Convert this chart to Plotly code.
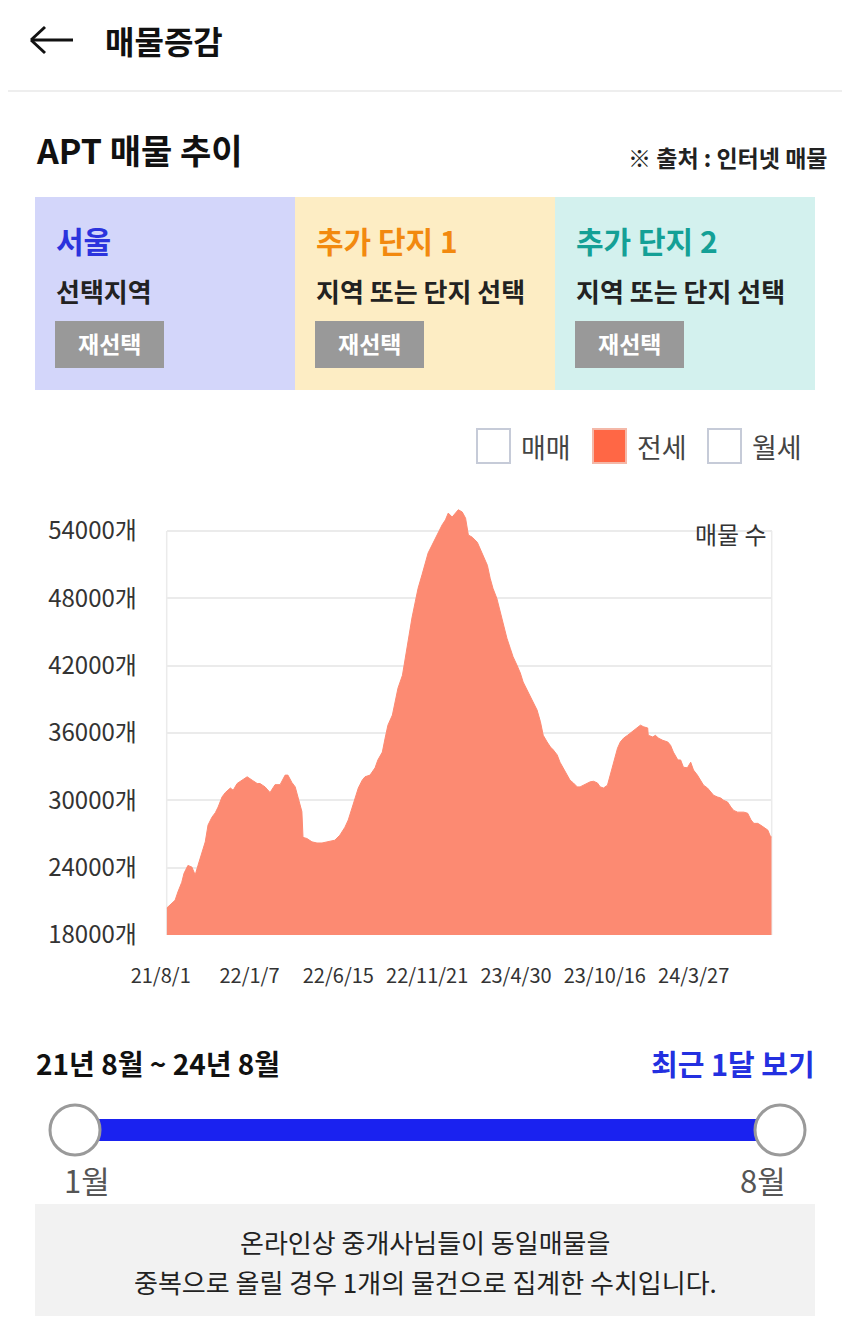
import plotly.graph_objects as go

W, H = 850, 1324
OFF = 8  # 페이지 body 여백만큼 보정
FONT = "Noto Sans CJK KR"

# 시점 인덱스(일 단위 카테고리 순번)와 전세 매물 수
idx = [0, 6, 15, 20, 27, 31, 38, 45, 51, 56, 63, 69, 74, 81, 87, 92, 99, 105, 114, 119,
       126, 135, 144, 153, 162, 167, 176, 185, 194, 203, 212, 217, 224, 230, 235, 242, 244, 251, 260, 269,
       278, 289, 301, 310, 319, 325, 332, 337, 343, 350, 355, 364, 373, 378, 386, 391, 396, 404, 409, 414,
       422, 427, 432, 439, 445, 450, 457, 463, 468, 475, 481, 486, 493, 499, 504, 511, 517, 522, 529, 535,
       540, 547, 556, 561, 566, 574, 579, 584, 591, 597, 602, 609, 615, 620, 627, 633, 638, 645, 651, 656,
       663, 669, 674, 681, 687, 692, 699, 704, 710, 717, 722, 728, 735, 740, 746, 753, 758, 764, 771, 776,
       782, 789, 794, 800, 807, 812, 818, 825, 830, 836, 843, 848, 854, 861, 862, 870, 875, 880, 888, 897,
       902, 907, 915, 920, 925, 932, 938, 943, 950, 956, 961, 968, 974, 979, 986, 992, 997, 1004, 1010, 1015,
       1022, 1028, 1033, 1040, 1046, 1051, 1058, 1063, 1069, 1076, 1081, 1083]
counts = [20400, 20670, 21100, 21830, 22700, 23500, 24200, 24060, 23350, 24200, 25400, 26300, 27800, 28500, 28900, 29400, 30300, 30700, 31100, 30900,
          31500, 31800, 32100, 31800, 31500, 31500, 31200, 30700, 31400, 31400, 32250, 32250, 31600, 31200, 30300, 29000, 26700, 26600, 26300, 26200,
          26200, 26300, 26450, 26900, 27600, 28250, 29300, 30200, 31100, 31800, 32100, 32250, 32900, 33600, 34300, 35550, 36700, 37600, 38750, 40000,
          41150, 42700, 44500, 46250, 47700, 48900, 50100, 51150, 52050, 52750, 53400, 53900, 54550, 55000, 55600, 55250, 55600, 55900, 55700, 55150,
          53650, 53450, 53000, 52450, 51850, 50950, 49800, 48900, 48000, 46800, 45900, 44450, 43550, 42800, 42050, 41350, 40550, 39850, 39200, 38650,
          38050, 37000, 35800, 35200, 34750, 34500, 34050, 33400, 32900, 32250, 31800, 31550, 31200, 31200, 31350, 31550, 31650, 31700, 31550, 31200,
          31100, 31350, 32250, 33150, 34650, 35200, 35550, 35800, 36000, 36250, 36450, 36700, 36550, 36450, 35800, 35650, 35800, 35550, 35350, 35200,
          34900, 34300, 33600, 33600, 32950, 32900, 33400, 32700, 32250, 31800, 31350, 31100, 30750, 30450, 30300, 30200, 30000, 29850, 29400, 29100,
          28950, 28950, 28950, 28850, 28250, 27950, 27950, 27800, 27600, 27350, 26750, 26750]

tick_idx = [0, 159, 318, 477, 636, 795, 954]
tick_text = ["21/8/1", "22/1/7", "22/6/15", "22/11/21", "23/4/30", "23/10/16", "24/3/27"]
y_ticks = [18000, 24000, 30000, 36000, 42000, 48000, 54000]
y_text = [f"{v}개" for v in y_ticks]

FW, FH = W - OFF, H - OFF


def px(x):
    return (x - OFF) / FW


def py(y):
    return 1 - (y - OFF) / FH


fig = go.Figure()
fig.add_trace(go.Scatter(x=idx, y=counts, mode="lines", fill="tozeroy",
                         line=dict(color="#FC8A72", width=1), fillcolor="#FC8A72",
                         hoverinfo="skip", showlegend=False))

shapes = []
annos = []


def text(x, y, s, size, color="#222", anchor="left", bold=False):
    annos.append(dict(x=px(x), y=py(y), xref="paper", yref="paper", text=f"<b>{s}</b>" if bold else s,
                      showarrow=False, xanchor=anchor, yanchor="middle",
                      font=dict(family=FONT, size=size, color=color)))


def rect(x0, y0, x1, y1, fill, line=None, lw=0):
    shapes.append(dict(type="rect", xref="paper", yref="paper", x0=px(x0), x1=px(x1), y0=py(y1), y1=py(y0),
                       fillcolor=fill, line=dict(color=line or fill, width=lw), layer="below"))


def seg(x0, y0, x1, y1, color, w):
    shapes.append(dict(type="line", xref="paper", yref="paper", x0=px(x0), x1=px(x1), y0=py(y0), y1=py(y1),
                       line=dict(color=color, width=w)))


# 헤더
seg(31, 40, 73, 40, "#111", 3)
seg(31, 40, 45, 27, "#111", 3)
seg(31, 40, 45, 53, "#111", 3)
text(103, 40, "매물증감", 32, "#111", bold=True)
seg(0, 91, W, 91, "#EEEEEE", 2)

text(34, 150, "APT 매물 추이", 34, "#111", bold=True)
text(829, 157, "※ 출처 : 인터넷 매물", 23, "#222", "right", bold=True)

# 선택 패널
panels = [(35, "#D3D6FA", "서울", "#2B33DD", "선택지역"),
          (295, "#FDEDC4", "추가 단지 1", "#F2890F", "지역 또는 단지 선택"),
          (555, "#D3F1EE", "추가 단지 2", "#14A096", "지역 또는 단지 선택")]
for x0, bg, title, tc, sub in panels:
    rect(x0, 197, x0 + 260, 390, bg)
    text(x0 + 19, 240, title, 30, tc, bold=True)
    text(x0 + 19, 290, sub, 26, "#222", bold=True)
    rect(x0 + 20, 321, x0 + 129, 368, "#999999")
    text(x0 + 74.5, 343, "재선택", 23, "white", "center", bold=True)

# 범례(체크박스)
for bx, lab, filled in [(477, "매매", False), (593, "전세", True), (708, "월세", False)]:
    if filled:
        rect(bx, 429, bx + 33, 463, "#FF6745", "#F4B8A8", 2)
    else:
        rect(bx, 429, bx + 33, 463, "white", "#C6CBD8", 2)
    text(bx + 42, 446, lab, 27, "#444")

# 차트 테두리 세로선
for xd in [0, 1]:
    shapes.append(dict(type="line", xref="x domain", yref="y", x0=xd, x1=xd, y0=18000, y1=54000,
                       line=dict(color="#EBEBEB", width=1.5), layer="below"))
text(769, 533, "매물 수", 24, "#333", "right")

# 기간 슬라이더
text(34, 1063, "21년 8월 ~ 24년 8월", 28, "#111", bold=True)
text(817, 1063, "최근 1달 보기", 29, "#2330E0", "right", bold=True)
rect(75, 1119, 780, 1141, "#1A22F0")
for cx in [75, 780]:
    shapes.append(dict(type="circle", xref="paper", yref="paper", x0=px(cx - 25), x1=px(cx + 25),
                       y0=py(1155), y1=py(1105), fillcolor="white", line=dict(color="#9A9A9A", width=3)))
text(87, 1179, "1월", 31, "#555", "center")
text(763, 1179, "8월", 31, "#555", "center")

rect(35, 1204, 815, 1316, "#F2F2F2")
text(425, 1241, "온라인상 중개사님들이 동일매물을", 26, "#222", "center")
text(425, 1281, "중복으로 올릴 경우 1개의 물건으로 집계한 수치입니다.", 26, "#222", "center")

fig.update_layout(
    template="none",
    width=FW, height=FH, margin=dict(l=0, r=0, t=0, b=0, pad=0, autoexpand=False),
    paper_bgcolor="white", plot_bgcolor="white",
    font=dict(family=FONT, color="#333"),
    shapes=shapes, annotations=annos, showlegend=False,
    xaxis=dict(domain=[px(166.7), px(771.7)], range=[0, 1083], tickmode="array", tickvals=tick_idx,
               ticktext=tick_text, automargin=False,
               showgrid=False, zeroline=False, showline=False, ticks="outside", ticklen=23,
               tickcolor="rgba(0,0,0,0)", ticklabelshift=-6, tickfont=dict(size=20, color="#333")),
    yaxis=dict(domain=[py(935), py(497.4)], range=[18000, 57000], tickmode="array", tickvals=y_ticks,
               ticktext=y_text, automargin=False,
               showgrid=True, gridcolor="#EBEBEB", gridwidth=1.5, zeroline=False, showline=False,
               ticks="outside", ticklen=24, tickcolor="rgba(0,0,0,0)", tickfont=dict(size=24, color="#333")),
)

fig.write_html("out.html")
